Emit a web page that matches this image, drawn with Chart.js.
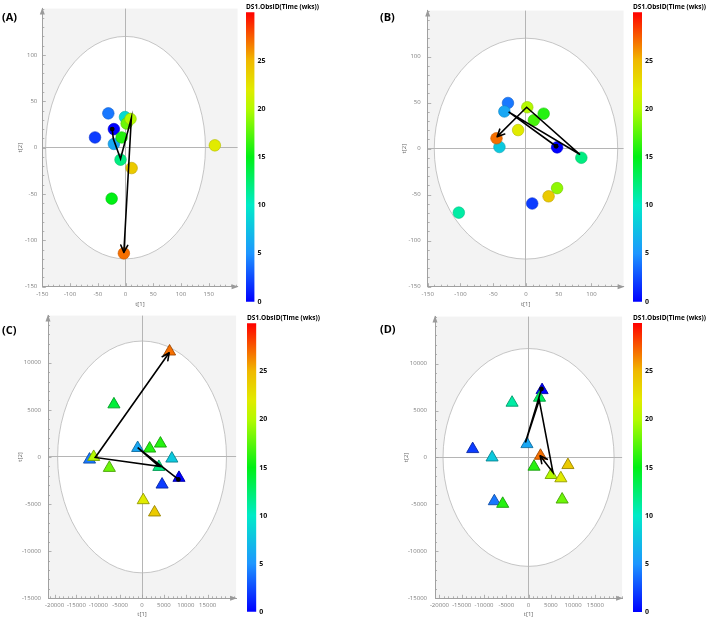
<!DOCTYPE html>
<html lang="en">
<head>
<meta charset="UTF-8">
<title>Score plots by time</title>
<script src="https://cdn.jsdelivr.net/npm/chart.js"></script>
<style>
  body { margin: 0; background: #fff; }
  #fig { position: relative; width: 709px; height: 622px; overflow: hidden; font-family: "Open Sans", sans-serif; }
  #fig canvas, .lbl, .cbt { position: absolute; }
  .lbl { font-weight: bold; font-size: 11px; line-height: 12px; }
  .cbt { font-family: "Open Sans", sans-serif; font-weight: bold; font-size: 7.5px; line-height: 8px; white-space: nowrap; transform-origin: 0 0; }
</style>
</head>
<body>
<div id="fig"></div>
<script>
// colour bar (weeks)
const colorTicks = [0, 5, 10, 15, 20, 25];
const colorMax = 30;

// (A)
const aX = [-21, -55, -31, -21, -1, -9, -25, -7, 2, 9, 161, 11, -3];
const aY = [20, 11, 37, 4, 33, -13, -55, 11, 26, 31, 2.5, -22, -114];
const aWeek = [0, 2, 4, 6, 9, 12, 15, 16, 18, 20, 22, 24, 27];
const aPathX = [-24, -22, -9, 10.5, -3];
const aPathY = [20, 9.5, -12, 32, -113];
const aEllipse = [144, 120];
const aXRange = [-150, 202];
const aXTicks = [-150, -100, -50, 0, 50, 100, 150];

// (B)
const bX = [47.5, 9.5, -27.5, -33, -40.5, -102.5, 84.5, 27, 12, 47.5, 2, -12, 34.5, -45];
const bY = [1.4, -59.6, 49.6, 40.4, 1.8, -69.5, -9.9, 38, 30.9, -42.9, 45, 20.2, -51.8, 11.3];
const bWeek = [0, 2, 4, 6, 8, 11, 12, 16, 17, 19, 20, 22, 24, 27];
const bPathX = [46, -26.5, 82.5, 1, -44];
const bPathY = [2.6, 40, -6.4, 45, 13];
const bEllipse = [140, 120];
const bXRange = [-150, 149];
const bXTicks = [-150, -100, -50, 0, 50, 100];

const abYRange = [-150, 150];
const abYTicks = [-150, -100, -50, 0, 50, 100];

// (C)
const cX = [8440, 4580, -12010, -1000, 6810, 3840, -6430, 1740, 4200, -7480, -11050, 270, 2860, 6290];
const cY = [-2220, -2930, -280, 950, -170, -1060, 5580, 890, 1420, -1160, 0, -4590, -5890, 11190];
const cWeek = [0, 2, 4, 6, 8, 12, 14, 16, 16, 18, 20, 22, 24, 27];
const cPathX = [8300, -1000, 3900, -10700, 6200];
const cPathY = [-2390, 990, -1000, -50, 11050];
const cEllipse = [19300, 12300];
const cXRange = [-21500, 21500];

// (D)
const dX = [3040, -12540, -7680, -360, -8190, -3700, 2460, 1230, -5800, 7540, 5070, 7250, 8840, 2680];
const dY = [7170, 890, -4660, 1420, 0, 5830, 6360, -985, -4940, -4480, -1870, -2220, -810, 180];
const dWeek = [0, 2, 4, 6, 8, 11, 13, 16, 16, 18, 20, 22, 24, 27];
const dPathX = [2900, -700, 2400, 5480, 2600];
const dPathY = [7300, 1590, 6100, -1590, 180];
const dEllipse = [19200, 11600];
const dXRange = [-21000, 21000];

const cdXTicks = [-20000, -15000, -10000, -5000, 0, 5000, 10000, 15000];
const cdYRange = [-15000, 15000];
const cdYTicks = [-15000, -10000, -5000, 0, 5000, 10000];

// jet-like colour map used by the colour bar
const colorStops = [
  [0, [0, 0, 255]], [5, [30, 150, 255]], [10, [0, 235, 200]], [15, [0, 240, 20]],
  [20, [180, 250, 0]], [22, [225, 235, 0]], [25, [240, 185, 0]], [30, [255, 0, 0]]
];
function weekColor(w, k = 1) {
  for (let i = 1; i < colorStops.length; i++) {
    const [w1, c1] = colorStops[i - 1], [w2, c2] = colorStops[i];
    if (w <= w2) {
      const f = (w - w1) / (w2 - w1);
      return 'rgb(' + c1.map((c, j) => Math.round((c + (c2[j] - c) * f) * k)).join(',') + ')';
    }
  }
  return 'rgb(255,0,0)';
}

const fig = document.getElementById('fig');
function addCanvas(left, top, w, h) {
  const cv = document.createElement('canvas');
  cv.width = w; cv.height = h;
  cv.style.left = left + 'px'; cv.style.top = top + 'px';
  cv.style.width = w + 'px'; cv.style.height = h + 'px';
  fig.appendChild(cv);
  return cv;
}
function addText(cls, text, left, top, fitWidth) {
  const d = document.createElement('div');
  d.className = cls; d.textContent = text;
  d.style.left = left + 'px'; d.style.top = top + 'px';
  fig.appendChild(d);
  if (fitWidth) d.style.transform = 'scaleX(' + (fitWidth / d.offsetWidth) + ')';
}

// background, T2 ellipse, minor ticks, axis arrows, path arrowhead
const decor = {
  id: 'decor',
  beforeDraw(chart, args, o) {
    const { ctx, chartArea: a, scales: { x, y } } = chart;
    ctx.save();
    ctx.fillStyle = '#f3f3f3';
    ctx.fillRect(a.left, a.top, a.right - a.left, a.bottom - a.top);
    const cx = x.getPixelForValue(0), cy = y.getPixelForValue(0);
    const rx = x.getPixelForValue(o.ell[0]) - cx, ry = cy - y.getPixelForValue(o.ell[1]);
    ctx.beginPath();
    ctx.ellipse(cx, cy, rx, ry, 0, 0, Math.PI * 2);
    ctx.fillStyle = '#fff';
    ctx.fill();
    ctx.strokeStyle = '#b8b8b8';
    ctx.lineWidth = 0.8;
    ctx.stroke();
    ctx.restore();
  },
  beforeDatasetsDraw(chart, args, o) {
    const { ctx, chartArea: a, scales: { x, y } } = chart;
    ctx.save();
    ctx.strokeStyle = '#a0a0a0';
    ctx.lineWidth = 0.8;
    ctx.beginPath();
    for (let v = Math.ceil(x.min / o.minor[0]) * o.minor[0]; v <= x.max; v += o.minor[0]) {
      const px = Math.round(x.getPixelForValue(v)) + 0.5;
      const len = o.xt.includes(v) ? 3.5 : 2;
      ctx.moveTo(px, a.bottom); ctx.lineTo(px, a.bottom - len);
    }
    for (let v = Math.ceil(y.min / o.minor[1]) * o.minor[1]; v <= y.max; v += o.minor[1]) {
      const py = Math.round(y.getPixelForValue(v)) + 0.5;
      const len = o.yt.includes(v) ? 3.5 : 2;
      ctx.moveTo(a.left, py); ctx.lineTo(a.left + len, py);
    }
    ctx.stroke();
    ctx.fillStyle = '#9a9a9a';
    ctx.beginPath();
    ctx.moveTo(a.left, a.top - 1); ctx.lineTo(a.left - 2.5, a.top + 6); ctx.lineTo(a.left + 2.5, a.top + 6); ctx.closePath();
    ctx.moveTo(a.right + 1, a.bottom); ctx.lineTo(a.right - 6, a.bottom - 2.5); ctx.lineTo(a.right - 6, a.bottom + 2.5); ctx.closePath();
    ctx.fill();
    ctx.restore();
  },
  afterDatasetsDraw(chart) {
    const pts = chart.getDatasetMeta(0).data;
    const n = pts.length;
    const tip = pts[n - 1], prev = pts[n - 2];
    const ang = Math.atan2(tip.y - prev.y, tip.x - prev.x);
    const { ctx } = chart;
    ctx.save();
    ctx.strokeStyle = '#000';
    ctx.lineWidth = 1.6;
    ctx.lineCap = 'round';
    ctx.beginPath();
    for (const s of [-1, 1]) {
      ctx.moveTo(tip.x, tip.y);
      ctx.lineTo(tip.x - 8 * Math.cos(ang + s * 0.45), tip.y - 8 * Math.sin(ang + s * 0.45));
    }
    ctx.stroke();
    ctx.restore();
  }
};

const tickFont = { family: '"Open Sans", sans-serif', size: 6 };

function makePanel(p) {
  const cv = addCanvas(p.left, p.top, p.w, p.h);
  const a = p.area;
  const circle = p.shape === 'circle';
  new Chart(cv, {
    type: 'scatter',
    data: {
      datasets: [
        {
          data: p.px.map((v, i) => ({ x: v, y: p.py[i] })),
          showLine: true,
          borderColor: '#000',
          borderWidth: 1.6,
          pointRadius: c => c.dataIndex === 0 ? 2.4 : 0,
          pointBackgroundColor: '#000',
          pointBorderWidth: 0,
          order: 1
        },
        {
          data: p.xs.map((v, i) => ({ x: v, y: p.ys[i] })),
          pointStyle: p.shape,
          pointRadius: circle ? 5.8 : 7,
          backgroundColor: p.wk.map(w => weekColor(w)),
          borderColor: p.wk.map(w => weekColor(w, circle ? 0.8 : 0.65)),
          borderWidth: circle ? 0.6 : 0.9,
          order: 2
        }
      ]
    },
    options: {
      responsive: false,
      animation: false,
      devicePixelRatio: 1,
      layout: { padding: { left: 0, top: a.top, right: p.w - a.right, bottom: 0 } },
      plugins: {
        legend: { display: false },
        tooltip: { enabled: false },
        decor: { ell: p.ell, minor: p.minor, xt: p.xt, yt: p.yt }
      },
      scales: {
        x: {
          type: 'linear', min: p.xr[0], max: p.xr[1],
          afterBuildTicks: s => { s.ticks = p.xt.map(v => ({ value: v })); },
          afterFit: s => { s.height = p.h - a.bottom; },
          ticks: { font: tickFont, color: '#808080', padding: p.xPad, maxRotation: 0, autoSkip: false, callback: v => String(v) },
          grid: { drawTicks: false, lineWidth: 1, color: c => (c.tick && c.tick.value === 0) ? '#b5b5b5' : 'rgba(0,0,0,0)' },
          border: { display: true, color: '#a0a0a0', width: 1 },
          title: { display: true, text: 't[1]', font: tickFont, color: '#666', padding: { top: 0, bottom: p.xTitle } }
        },
        y: {
          type: 'linear', min: p.yr[0], max: p.yr[1],
          afterBuildTicks: s => { s.ticks = p.yt.map(v => ({ value: v })); },
          afterFit: s => { s.width = a.left; },
          ticks: { font: tickFont, color: '#808080', padding: p.yPad, autoSkip: false, callback: v => String(v) },
          grid: { drawTicks: false, lineWidth: 1, color: c => (c.tick && c.tick.value === 0) ? '#b5b5b5' : 'rgba(0,0,0,0)' },
          border: { display: true, color: '#a0a0a0', width: 1 },
          title: { display: true, text: 't[2]', font: tickFont, color: '#666', padding: { top: p.yTitle, bottom: 0 } }
        }
      }
    },
    plugins: [decor]
  });

  // colour bar
  const b = p.bar;
  const cb = addCanvas(b.left, p.top, 60, p.h);
  new Chart(cb, {
    type: 'bar',
    data: {
      labels: [''],
      datasets: [{
        data: [[0, colorMax]],
        barPercentage: 1,
        categoryPercentage: 1,
        borderWidth: 0,
        backgroundColor: c => {
          const ca = c.chart.chartArea;
          if (!ca) return '#00f';
          const g = c.chart.ctx.createLinearGradient(0, ca.bottom, 0, ca.top);
          colorStops.forEach(([w, rgb]) => g.addColorStop(w / colorMax, 'rgb(' + rgb.join(',') + ')'));
          return g;
        }
      }]
    },
    options: {
      responsive: false,
      animation: false,
      devicePixelRatio: 1,
      layout: { padding: { left: 1, top: b.top, right: 0, bottom: p.h - b.bottom } },
      plugins: { legend: { display: false }, tooltip: { enabled: false } },
      scales: {
        x: { display: false },
        y: {
          position: 'right', min: 0, max: colorMax,
          afterBuildTicks: s => { s.ticks = colorTicks.map(v => ({ value: v })); },
          afterFit: s => { s.width = 60 - 1 - b.width; },
          ticks: { font: { family: '"Open Sans", sans-serif', size: 7, weight: 'bold' }, color: '#111', padding: 3 },
          grid: { display: false, drawTicks: false },
          border: { display: false }
        }
      }
    }
  });
  addText('cbt', 'DS1.ObsID(Time (wks))', b.left + 1, p.top + b.titleY, 73);
  addText('lbl', p.label, p.labelPos[0], p.labelPos[1]);
}

const panels = [
  { label: '(A)', xs: aX, ys: aY, wk: aWeek, px: aPathX, py: aPathY, ell: aEllipse, xr: aXRange, yr: abYRange,
    xt: aXTicks, yt: abYTicks, minor: [10, 10], shape: 'circle',
    left: 0, top: 0, w: 244, h: 310, area: { left: 42.3, top: 5, right: 240, bottom: 286.7 },
    xPad: 4, yPad: 5, xTitle: 1.8, yTitle: 16.5,
    bar: { left: 244.7, width: 8.5, top: 12.3, bottom: 301.7, titleY: 2 }, labelPos: [2, 11] },
  { label: '(B)', xs: bX, ys: bY, wk: bWeek, px: bPathX, py: bPathY, ell: bEllipse, xr: bXRange, yr: abYRange,
    xt: bXTicks, yt: abYTicks, minor: [10, 10], shape: 'circle',
    left: 385, top: 0, w: 245, h: 310, area: { left: 42.7, top: 5, right: 241.7, bottom: 286.7 },
    xPad: 4, yPad: 7, xTitle: 2.5, yTitle: 15.8,
    bar: { left: 632, width: 9, top: 12.3, bottom: 301.7, titleY: 2 }, labelPos: [380, 11] },
  { label: '(C)', xs: cX, ys: cY, wk: cWeek, px: cPathX, py: cPathY, ell: cEllipse, xr: cXRange, yr: cdYRange,
    xt: cdXTicks, yt: cdYTicks, minor: [1000, 1000], shape: 'triangle',
    left: 0, top: 305, w: 244, h: 317, area: { left: 48, top: 10.3, right: 241, bottom: 293.3 },
    xPad: 3, yPad: 7, xTitle: 3.8, yTitle: 16.8,
    bar: { left: 245.7, width: 9.3, top: 18.3, bottom: 306.7, titleY: 8 }, labelPos: [2, 324] },
  { label: '(D)', xs: dX, ys: dY, wk: dWeek, px: dPathX, py: dPathY, ell: dEllipse, xr: dXRange, yr: cdYRange,
    xt: cdXTicks, yt: cdYTicks, minor: [1000, 1000], shape: 'triangle',
    left: 385, top: 305, w: 245, h: 317, area: { left: 50, top: 10.3, right: 243, bottom: 293.3 },
    xPad: 3, yPad: 8, xTitle: 3.8, yTitle: 17.5,
    bar: { left: 632, width: 9, top: 18, bottom: 307, titleY: 8 }, labelPos: [380, 323] }
];

panels.forEach(makePanel);
</script>
</body>
</html>
